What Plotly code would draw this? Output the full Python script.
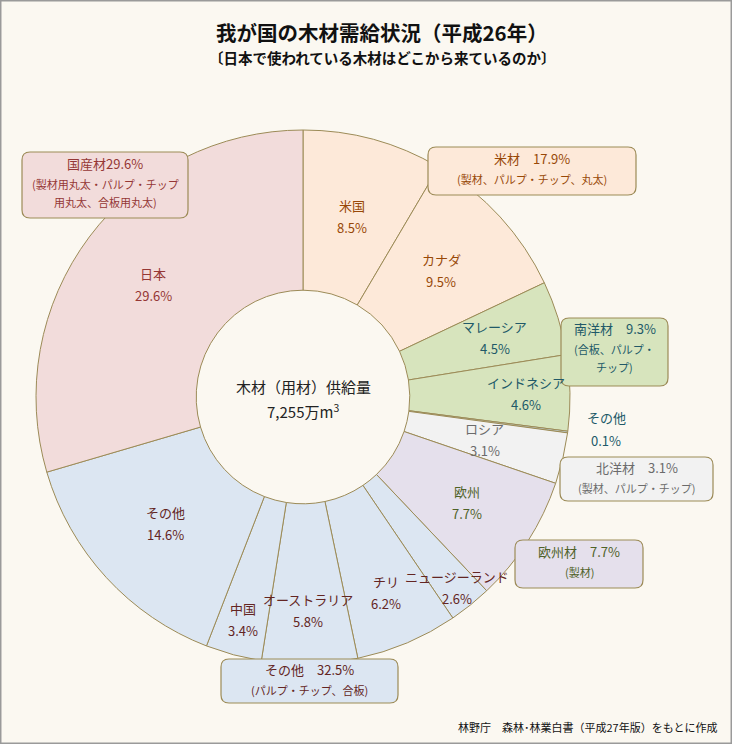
import math
import plotly.graph_objects as go

# ---- data ----
countries = ["米国", "カナダ", "マレーシア", "インドネシア", "その他", "ロシア", "欧州",
             "ニュージーランド", "チリ", "オーストラリア", "中国", "その他", "日本"]
shares = [8.5, 9.5, 4.5, 4.6, 0.1, 3.1, 7.7, 2.6, 6.2, 5.8, 3.4, 14.6, 29.6]
groups = ["米材", "米材", "南洋材", "南洋材", "南洋材", "北洋材", "欧州材",
          "その他", "その他", "その他", "その他", "その他", "国産材"]

group_names = ["国産材", "米材", "南洋材", "北洋材", "欧州材", "その他"]
group_shares = [29.6, 17.9, 9.3, 3.1, 7.7, 32.5]
group_notes = [["(製材用丸太・パルプ・チップ", "用丸太、合板用丸太)"],
               ["(製材、パルプ・チップ、丸太)"],
               ["(合板、パルプ・", "チップ)"],
               ["(製材、パルプ・チップ)"],
               ["(製材)"],
               ["(パルプ・チップ、合板)"]]

total_supply = "7,255"

# ---- styles ----
fill = {"米材": "#fde9d9", "南洋材": "#d7e4bd", "北洋材": "#f2f2f2",
        "欧州材": "#e5e0ec", "その他": "#dce6f2", "国産材": "#f2dcdb"}
txtc = {"米材": "#984807", "南洋材": "#215968", "北洋材": "#6b6b6b",
        "欧州材": "#4f6228", "その他": "#632523", "国産材": "#953735"}
slice_colors = [fill[g] for g in groups]
slice_colors[4] = "#c5dbe6"
edge = "#9c8b57"
FONT = "Noto Sans CJK JP"
W, H = 732, 744

# pie geometry (pixels)
cx, cy, R = 303, 397, 267
dom_x = [(cx - R) / W, (cx + R) / W]
dom_y = [1 - (cy + R) / H, 1 - (cy - R) / H]

fig = go.Figure(go.Pie(
    labels=[f"{c}{i}" for i, c in enumerate(countries)],
    values=shares, sort=False, direction="clockwise", rotation=0,
    hole=0.4, textinfo="none", hoverinfo="skip",
    marker=dict(colors=slice_colors, line=dict(color=edge, width=1)),
    domain=dict(x=dom_x, y=dom_y), showlegend=False))

annotations = []
shapes = []


def txt(x, y, s, size, color, anchor="center", bold=False):
    if bold:
        s = f"<b>{s}</b>"
    annotations.append(dict(x=x / W, y=1 - y / H, xref="paper", yref="paper", showarrow=False,
                            text=s, xanchor=anchor, yanchor="middle",
                            font=dict(family=FONT, size=size, color=color)))


# slice labels placed along mid-angle
label_r = [187, 187, 201, 223, None, 187, 195, 245, 212, 214, 230, 187, 187]
tot = sum(shares)
cum = 0
for i, (c, v) in enumerate(zip(countries, shares)):
    mid = (cum + v / 2) / tot * 2 * math.pi
    cum += v
    if label_r[i] is None:
        px, py = 606, 429
        col = "#215968"
    else:
        px = cx + label_r[i] * math.sin(mid)
        py = cy - label_r[i] * math.cos(mid)
        col = txtc[groups[i]]
    txt(px, py - 11, c, 13, col)
    txt(px, py + 11, f"{v:.1f}%", 13, col)


def rrect(x0, y0, x1, y1, r=8):
    Y0, Y1 = 1 - y0 / H, 1 - y1 / H
    X0, X1 = x0 / W, x1 / W
    rx, ry = r / W, r / H
    return (f"M{X0+rx},{Y0} L{X1-rx},{Y0} Q{X1},{Y0} {X1},{Y0-ry} "
            f"L{X1},{Y1+ry} Q{X1},{Y1} {X1-rx},{Y1} L{X0+rx},{Y1} "
            f"Q{X0},{Y1} {X0},{Y1+ry} L{X0},{Y0-ry} Q{X0},{Y0} {X0+rx},{Y0} Z")


boxes = {"国産材": (22, 152, 188, 218), "米材": (428, 147, 636, 195),
         "南洋材": (561, 318, 668, 386), "北洋材": (560, 457, 713, 501),
         "欧州材": (515, 540, 643, 588), "その他": (221, 659, 398, 703)}
title_line = {"国産材": 163, "米材": 158, "南洋材": 328, "北洋材": 467,
              "欧州材": 551, "その他": 669}

for name, gs, notes in zip(group_names, group_shares, group_notes):
    x0, y0, x1, y1 = boxes[name]
    shapes.append(dict(type="path", path=rrect(x0, y0, x1, y1), xref="paper", yref="paper",
                       fillcolor=fill[name], line=dict(color=edge, width=1.2)))
    head = f"{name}{gs:.1f}%" if name == "国産材" else f"{name}　{gs:.1f}%"
    ty = title_line[name]
    xm = (x0 + x1) / 2
    txt(xm, ty, head, 13, txtc[name])
    for k, n in enumerate(notes):
        txt(xm, ty + 21 + 18 * k, n, 11, txtc[name])

# center text
txt(cx, 386, "木材（用材）供給量", 15, "#222222")
txt(cx, 411, f"{total_supply}万m<sup>3</sup>", 15, "#222222")

# titles
txt(382, 32, "我が国の木材需給状況（平成26年）", 20.5, "#111111", bold=True)
txt(382, 57, "〔日本で使われている木材はどこから来ているのか〕", 14.5, "#111111", bold=True)
txt(720, 727, "林野庁　森林･林業白書（平成27年版）をもとに作成", 11, "#111111", anchor="right")

# frame border
shapes.append(dict(type="rect", xref="paper", yref="paper", x0=0.001, y0=0.001, x1=0.999, y1=0.999,
                   line=dict(color="#9a9a9a", width=1.5), fillcolor="rgba(0,0,0,0)"))

fig.update_layout(width=W, height=H, margin=dict(l=0, r=0, t=0, b=0),
                  paper_bgcolor="#fbf8f1", plot_bgcolor="#fbf8f1",
                  annotations=annotations, shapes=shapes)
fig.write_html("out.html")
